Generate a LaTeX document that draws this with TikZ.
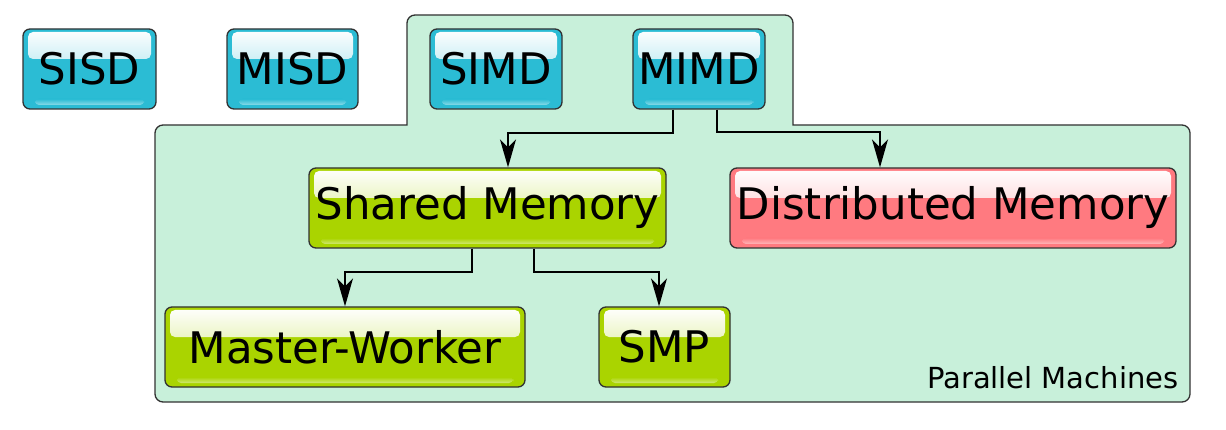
\documentclass[tikz,border=0pt]{standalone}
\usepackage{fontspec}
\setmainfont{DejaVu Sans}
\usetikzlibrary{arrows.meta}
\definecolor{cyanbox}{RGB}{43,188,212}
\definecolor{greenbox}{RGB}{170,212,0}
\definecolor{redbox}{RGB}{255,122,128}
\definecolor{contfill}{RGB}{200,240,218}
\definecolor{edge}{RGB}{50,50,50}
\tikzset{
  glossy/.style={draw=edge, line width=1.3pt, rounded corners=7pt, fill=#1,
    minimum height=80pt, inner sep=0pt, font=\fontsize{43.5}{43.5}\selectfont,
    path picture={
      \fill[rounded corners=5pt, top color=white, bottom color=#1!60!white]
        ([xshift=5pt,yshift=-3pt]path picture bounding box.north west) rectangle
        ([xshift=-5pt,yshift=-30pt]path picture bounding box.north east);
      \fill[rounded corners=4pt, top color=#1, bottom color=#1!55!white]
        ([xshift=12pt,yshift=10pt]path picture bounding box.south west) rectangle
        ([xshift=-12pt,yshift=4pt]path picture bounding box.south east);
    }},
  conn/.style={draw=black, line width=1.8pt, -{Stealth[length=28pt,width=16pt,inset=8pt]}}
}
\begin{document}
\begin{tikzpicture}[x=1pt,y=-1pt]
\useasboundingbox (0,0) rectangle (1226,430);
% container
\draw[fill=contfill, draw=edge, line width=1.3pt]
  (407,70) [rounded corners=8pt] -- (407,15) -- (793,15) -- (793,70)
  [sharp corners] -- (793,125) -- (1000,125)
  [rounded corners=8pt] -- (1190,125) -- (1190,402) -- (155,402) -- (155,125) -- (300,125)
  [sharp corners] -- (407,125) -- cycle;
\node[anchor=south east, font=\fontsize{29}{29}\selectfont] (lbl) at (1182,392) {Parallel Machines};
% boxes
\node[glossy=cyanbox, minimum width=133pt] (sisd) at (89.5,69) {SISD};
\node[glossy=cyanbox, minimum width=131pt] (misd) at (292.5,69) {MISD};
\node[glossy=cyanbox, minimum width=132pt] (simd) at (496,69) {SIMD};
\node[glossy=cyanbox, minimum width=132pt] (mimd) at (699,69) {MIMD};
\node[glossy=greenbox, minimum width=357pt] (shared) at (487.5,208) {Shared Memory};
\node[glossy=redbox, minimum width=446pt] (dist) at (953,208) {Distributed Memory};
\node[glossy=greenbox, minimum width=360pt] (mw) at (345,347) {Master-Worker};
\node[glossy=greenbox, minimum width=131pt] (smp) at (664.5,347) {SMP};
% connectors
\draw[conn] ([xshift=-26pt]mimd.south) -- ++(0,23) -| ([xshift=20.5pt]shared.north);
\draw[conn] ([xshift=18pt]mimd.south) -- ++(0,22) -| ([xshift=-73pt]dist.north);
\draw[conn] ([xshift=-15.5pt]shared.south) -- ++(0,23) -| (mw.north);
\draw[conn] ([xshift=46.5pt]shared.south) -- ++(0,23) -| ([xshift=-5.5pt]smp.north);
\end{tikzpicture}
\end{document}
